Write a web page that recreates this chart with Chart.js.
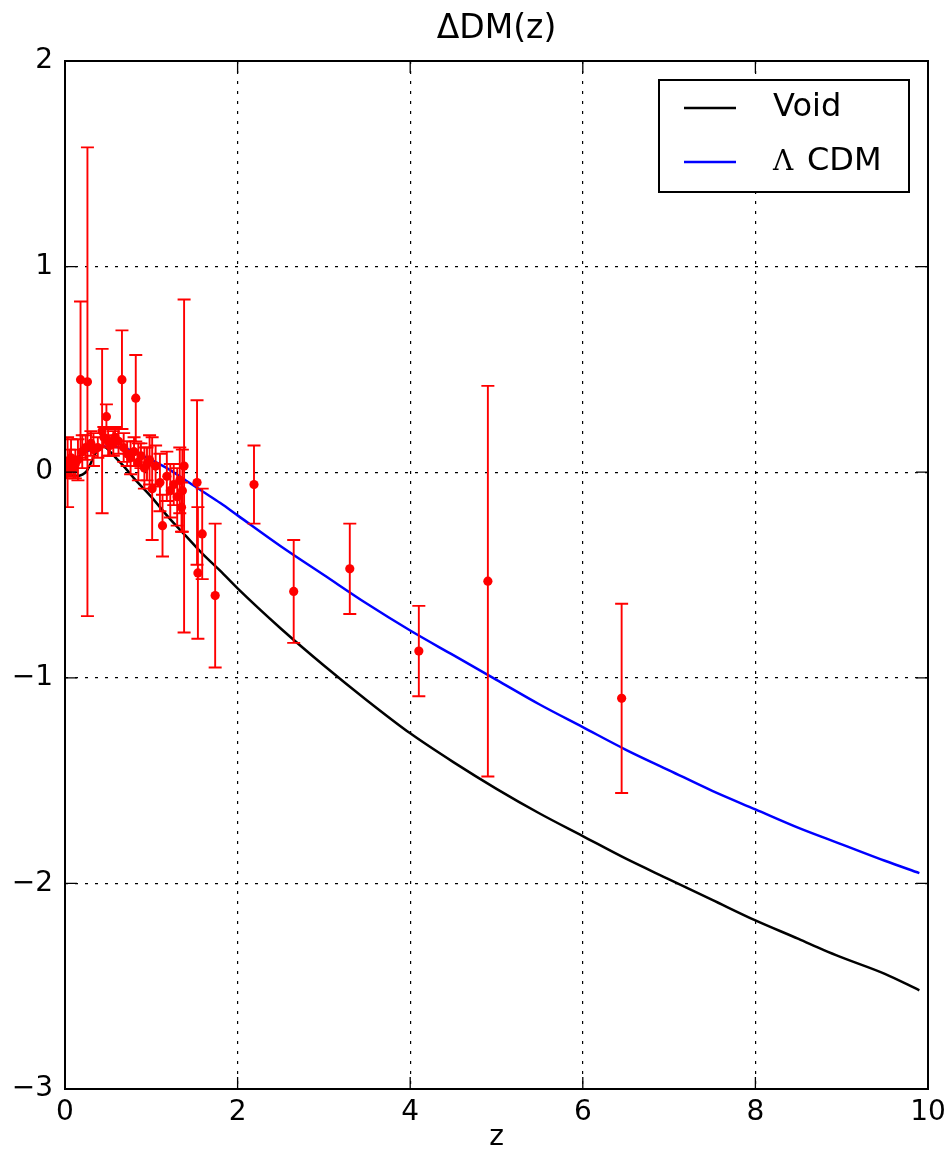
<!DOCTYPE html>
<html>
<head>
<meta charset="utf-8">
<script src="https://cdn.jsdelivr.net/npm/chart.js@4.4.1/dist/chart.umd.min.js"></script>
<style>
  html, body { margin: 0; padding: 0; background: #ffffff; }
  canvas { display: block; }
</style>
</head>
<body>
<canvas id="dm" width="946" height="1155"></canvas>
<script>
// Void model: distance-modulus difference vs redshift
const voidZ  = [0, 0.05, 0.1, 0.15, 0.2, 0.25, 0.3, 0.35, 0.4, 0.45, 0.5, 0.6, 0.7, 0.8, 0.9, 1.0,
                1.2, 1.4, 1.6, 1.8, 2.0, 2.5, 3.0, 3.5, 4.0, 4.5, 5.0, 5.5, 6.0, 6.5, 7.0, 7.5,
                8.0, 8.5, 8.8, 9.0, 9.5, 9.9];
const voidDM = [0, -0.01, -0.015, -0.018, -0.012, 0.005, 0.045, 0.09, 0.115, 0.125, 0.11, 0.065, 0.02, -0.03, -0.075, -0.12,
                -0.22, -0.31, -0.40, -0.48, -0.565, -0.76, -0.94, -1.11, -1.27, -1.41, -1.54, -1.66, -1.77, -1.88, -1.98, -2.08,
                -2.18, -2.27, -2.326, -2.36, -2.44, -2.52];

// Lambda-CDM model
const lcdmZ  = [0, 0.1, 0.2, 0.3, 0.4, 0.5, 0.6, 0.7, 0.8, 0.9, 1.0, 1.2, 1.4, 1.6, 1.8, 2.0,
                2.5, 3.0, 3.5, 4.0, 4.5, 5.0, 5.5, 6.0, 6.5, 7.0, 7.5, 8.0, 8.5, 9.0, 9.5, 9.9];
const lcdmDM = [0, 0.055, 0.09, 0.11, 0.122, 0.125, 0.122, 0.115, 0.10, 0.08, 0.06, 0.015, -0.04, -0.095, -0.15, -0.21,
                -0.36, -0.50, -0.64, -0.77, -0.89, -1.01, -1.13, -1.24, -1.35, -1.45, -1.55, -1.64, -1.73, -1.81, -1.89, -1.95];

// Observed points with 1-sigma errors
const obsZ   = [0.02, 0.03, 0.05, 0.07, 0.10, 0.12, 0.15, 0.18, 0.20, 0.24, 0.26, 0.30, 0.33, 0.38, 0.43,
                0.45, 0.48, 0.50, 0.52, 0.56, 0.58, 0.62, 0.66, 0.68, 0.72, 0.76, 0.80, 0.82, 0.85, 0.88,
                0.92, 0.95, 0.98, 1.01, 1.05, 1.10, 1.13, 1.18, 1.22, 1.26, 1.30, 1.33, 1.35, 1.36, 1.38,
                1.53, 1.54, 1.59, 1.74, 2.19, 2.65, 3.30, 4.10, 4.90, 6.45];
const obsDM  = [0.02, 0.00, 0.05, 0.07, 0.02, 0.04, 0.06, 0.45, 0.10, 0.12, 0.44, 0.14, 0.11, 0.12, 0.20,
                0.17, 0.27, 0.15, 0.13, 0.14, 0.17, 0.15, 0.45, 0.12, 0.09, 0.07, 0.10, 0.36, 0.05, 0.08,
                0.02, 0.04, 0.06, -0.08, 0.03, -0.05, -0.26, -0.02, -0.09, -0.06, -0.12, -0.04, -0.17, -0.09, 0.03,
                -0.05, -0.49, -0.30, -0.60, -0.06, -0.58, -0.47, -0.87, -0.53, -1.10];
const obsErr = [0.05, 0.17, 0.06, 0.09, 0.05, 0.07, 0.10, 0.38, 0.08, 0.06, 1.14, 0.06, 0.08, 0.05, 0.40,
                0.05, 0.06, 0.07, 0.05, 0.06, 0.05, 0.06, 0.24, 0.07, 0.06, 0.08, 0.07, 0.21, 0.09, 0.06,
                0.10, 0.08, 0.12, 0.25, 0.10, 0.14, 0.15, 0.12, 0.13, 0.10, 0.14, 0.16, 0.12, 0.20, 0.81,
                0.40, 0.32, 0.22, 0.35, 0.19, 0.25, 0.22, 0.22, 0.95, 0.46];

const xTicks = [0, 2, 4, 6, 8, 10];
const yTicks = [-3, -2, -1, 0, 1, 2];
const chartTitle = '\u0394DM(z)';

const FONT = "'DejaVu Sans', 'Liberation Sans', sans-serif";
const toPoints = (xs, ys) => xs.map((x, i) => ({ x: x, y: ys[i] }));
const fmt = v => (v < 0 ? '\u2212' + Math.abs(v) : String(v));

// white canvas background
const background = {
  id: 'background',
  beforeDraw(chart) {
    const c = chart.ctx;
    c.save();
    c.fillStyle = '#ffffff';
    c.fillRect(0, 0, chart.width, chart.height);
    c.restore();
  }
};

// title centred over the plotting area
const plotTitle = {
  id: 'plotTitle',
  afterDraw(chart) {
    const c = chart.ctx, a = chart.chartArea;
    c.save();
    c.fillStyle = '#000000';
    c.font = '33px ' + FONT;
    c.textAlign = 'center';
    c.textBaseline = 'middle';
    c.fillText(chartTitle, (a.left + a.right) / 2, a.top - 32);
    c.restore();
  }
};

// vertical error bars with caps, drawn under the markers
const errorBars = {
  id: 'errorBars',
  beforeDatasetDraw(chart, args) {
    const ds = chart.data.datasets[args.index];
    if (!ds.errors) return;
    const c = chart.ctx, xs = chart.scales.x, ys = chart.scales.y;
    const area = chart.chartArea;
    c.save();
    c.beginPath();
    c.rect(area.left, area.top, area.right - area.left, area.bottom - area.top);
    c.clip();
    c.strokeStyle = ds.errorColor;
    c.lineWidth = 1.9;
    const cap = 6.5;
    ds.data.forEach((p, i) => {
      const e = ds.errors[i];
      const px = xs.getPixelForValue(p.x);
      const y1 = ys.getPixelForValue(p.y + e);
      const y2 = ys.getPixelForValue(p.y - e);
      c.beginPath();
      c.moveTo(px, y1); c.lineTo(px, y2);
      c.moveTo(px - cap, y1); c.lineTo(px + cap, y1);
      c.moveTo(px - cap, y2); c.lineTo(px + cap, y2);
      c.stroke();
    });
    c.restore();
  }
};

// axes frame with inward ticks on all four sides
const frame = {
  id: 'frame',
  afterDatasetsDraw(chart) {
    const c = chart.ctx, a = chart.chartArea;
    const xs = chart.scales.x, ys = chart.scales.y;
    const len = 12;
    c.save();
    c.strokeStyle = '#000000';
    c.lineWidth = 1.3;
    c.beginPath();
    xs.ticks.forEach(t => {
      const px = xs.getPixelForValue(t.value);
      c.moveTo(px, a.bottom); c.lineTo(px, a.bottom - len);
      c.moveTo(px, a.top); c.lineTo(px, a.top + len);
    });
    ys.ticks.forEach(t => {
      const py = ys.getPixelForValue(t.value);
      c.moveTo(a.left, py); c.lineTo(a.left + len, py);
      c.moveTo(a.right, py); c.lineTo(a.right - len, py);
    });
    c.stroke();
    c.lineWidth = 2;
    c.strokeRect(a.left, a.top, a.right - a.left, a.bottom - a.top);
    c.restore();
  }
};

// boxed legend in the upper right corner of the plot
const boxLegend = {
  id: 'boxLegend',
  afterDraw(chart) {
    const c = chart.ctx, a = chart.chartArea;
    const items = chart.data.datasets.filter(d => d.inLegend)
      .sort((p, q) => p.legendRank - q.legendRank);
    const w = 250, h = 112;
    const x0 = a.right - 19 - w, y0 = a.top + 19;
    c.save();
    c.fillStyle = '#ffffff';
    c.fillRect(x0, y0, w, h);
    c.strokeStyle = '#000000';
    c.lineWidth = 2;
    c.strokeRect(x0, y0, w, h);
    items.forEach((d, i) => {
      const cy = y0 + 28 + i * 54;
      c.strokeStyle = d.borderColor;
      c.lineWidth = 2.5;
      c.beginPath();
      c.moveTo(x0 + 25, cy); c.lineTo(x0 + 77, cy);
      c.stroke();
      c.fillStyle = '#000000';
      c.textBaseline = 'middle';
      c.textAlign = 'left';
      let tx = x0 + 114;
      let label = d.label;
      if (label.startsWith('\u039b')) {
        c.font = "28px 'DejaVu Serif', 'Liberation Serif', serif";
        c.fillText('\u039b', tx, cy + 1);
        tx += 34;
        label = label.slice(1).trim();
      }
      c.font = '32px ' + FONT;
      c.fillText(label, tx, cy);
    });
    c.restore();
  }
};

new Chart(document.getElementById('dm'), {
  data: {
    datasets: [
      {
        type: 'scatter',
        label: 'data',
        data: toPoints(obsZ, obsDM),
        errors: obsErr,
        errorColor: '#ff0000',
        backgroundColor: '#ff0000',
        borderColor: '#ff0000',
        borderWidth: 0,
        pointRadius: 4.6,
        pointHoverRadius: 4.6
      },
      {
        type: 'line',
        label: '\u039b CDM',
        inLegend: true,
        legendRank: 2,
        data: toPoints(lcdmZ, lcdmDM),
        borderColor: '#0000ff',
        borderWidth: 2.5,
        pointRadius: 0,
        fill: false,
        cubicInterpolationMode: 'monotone'
      },
      {
        type: 'line',
        label: 'Void',
        inLegend: true,
        legendRank: 1,
        data: toPoints(voidZ, voidDM),
        borderColor: '#000000',
        borderWidth: 2.5,
        pointRadius: 0,
        fill: false,
        cubicInterpolationMode: 'monotone'
      }
    ]
  },
  options: {
    responsive: false,
    maintainAspectRatio: false,
    animation: false,
    devicePixelRatio: 1,
    layout: { padding: { left: 0, right: 18, top: 61, bottom: 0 } },
    plugins: {
      legend: { display: false },
      tooltip: { enabled: false },
      title: { display: false }
    },
    scales: {
      x: {
        type: 'linear',
        position: 'bottom',
        min: 0,
        max: 10,
        afterBuildTicks: s => { s.ticks = xTicks.map(v => ({ value: v })); },
        afterFit: s => { s.height = 66; s.paddingLeft = 0; s.paddingRight = 0; },
        ticks: {
          color: '#000000',
          font: { family: FONT, size: 28 },
          padding: 7,
          maxRotation: 0,
          callback: v => fmt(v)
        },
        grid: { color: '#000000', lineWidth: 1.2, drawTicks: false },
        border: { display: false, dash: [3, 7] },
        title: {
          display: true,
          text: 'z',
          color: '#000000',
          font: { family: FONT, size: 28 },
          padding: { top: 0, bottom: 0 }
        }
      },
      y: {
        type: 'linear',
        position: 'left',
        min: -3,
        max: 2,
        afterBuildTicks: s => { s.ticks = yTicks.map(v => ({ value: v })); },
        afterFit: s => { s.width = 65; s.paddingTop = 0; s.paddingBottom = 0; },
        ticks: {
          color: '#000000',
          font: { family: FONT, size: 28 },
          padding: 12,
          callback: v => fmt(v)
        },
        grid: { color: '#000000', lineWidth: 1.2, drawTicks: false },
        border: { display: false, dash: [3, 7] }
      }
    }
  },
  plugins: [background, errorBars, frame, boxLegend, plotTitle]
});
</script>
</body>
</html>
